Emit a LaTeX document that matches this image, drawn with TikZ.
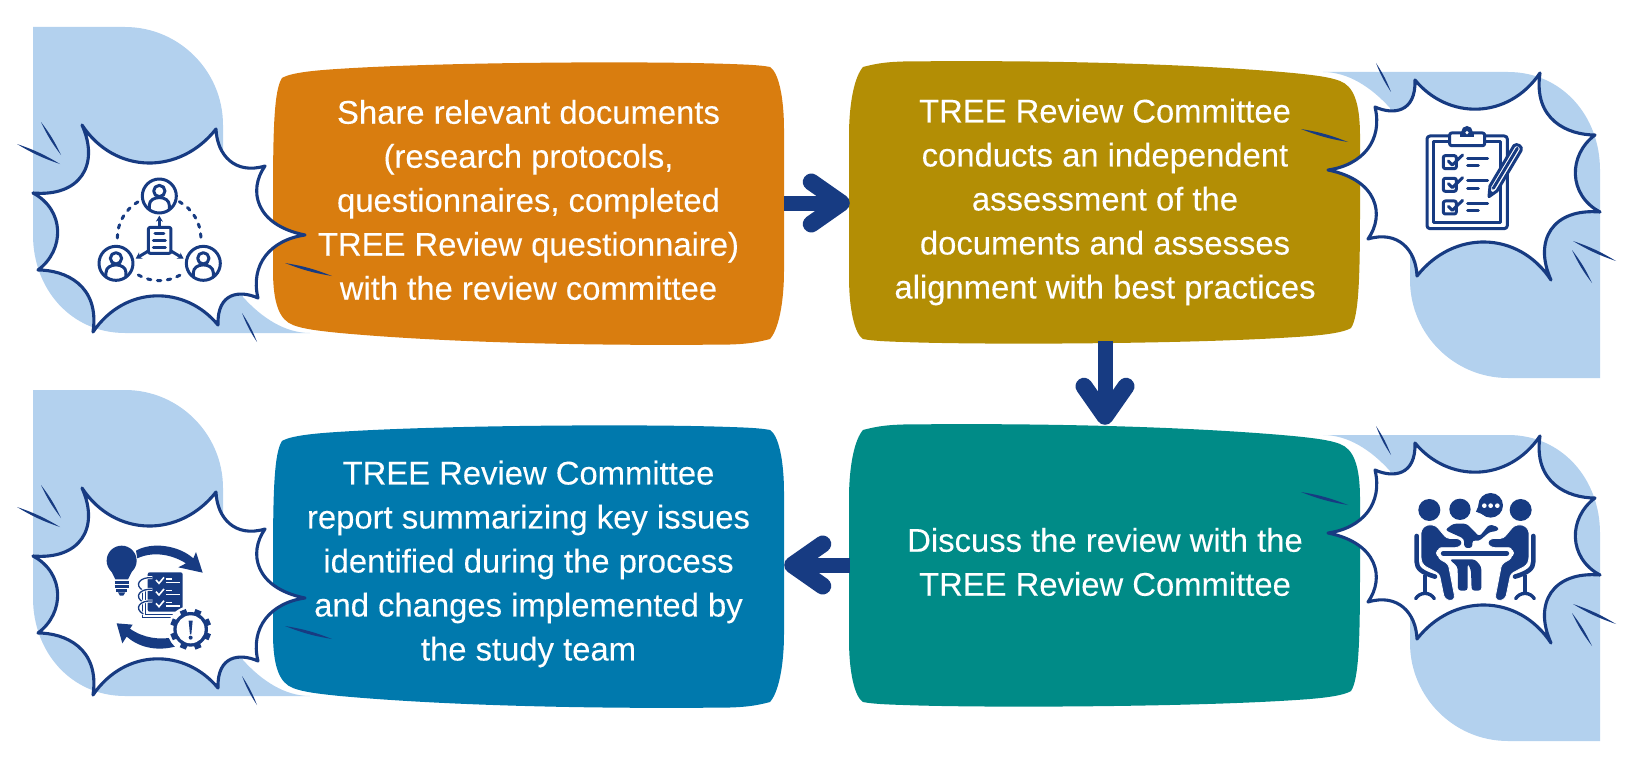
\documentclass[tikz,border=0pt]{standalone}
\usepackage{fontspec}
\setmainfont[FakeBold=0.15]{Liberation Sans}
\usetikzlibrary{arrows.meta}
\definecolor{inknavy}{HTML}{173B82}
\definecolor{blobblue}{HTML}{B3D1EE}
\definecolor{boxorange}{HTML}{D97D0F}
\definecolor{boxgold}{HTML}{B38E05}
\definecolor{boxteal}{HTML}{008B87}
\definecolor{boxblue}{HTML}{0079AD}
\newcommand{\penstroke}[2]{\fill[inknavy] (#1) to[bend left=6] (#2) to[bend left=6] (#1);}
\tikzset{
  steptext/.style={text=white, align=center, minimum width=511pt, minimum height=278pt, inner sep=0pt, font=\fontsize{32.8}{44}\selectfont},
  flowarrow/.style={draw=inknavy, line width=15pt, -{Straight Barb[round, length=30pt, width=42pt, line width=17pt]}},
  zoomed/.style={x=0.3333pt, y=-0.3333pt},
  iconline/.style={draw=inknavy, line width=3pt, line cap=round, line join=round},
  blobback/.pic={
    \fill[blobblue] (33,27) -- (125,27) .. controls (179,27) and (223,71) .. (223,125) -- (223,170) -- (243,297)
      .. controls (262,318) and (285,333) .. (310,333) -- (125,333) .. controls (71,333) and (33,289) .. (33,235) -- cycle;
  },
  stepblob/.pic={
    \fill[#1] (273,200) .. controls (273,130) and (274,90) .. (282,78) .. controls (292,72) and (320,70) .. (345,68.5)
      .. controls (450,62) and (650,61) .. (730,64) .. controls (745,64.5) and (760,65) .. (770,67)
      .. controls (778,72) and (784,95) .. (784,130) -- (784,270) .. controls (784,305) and (778,330) .. (770,339)
      .. controls (755,343) and (745,344) .. (730,344.5) .. controls (600,346) and (450,343) .. (340,333)
      .. controls (320,331) and (303,329) .. (293,325) .. controls (280,320) and (273,305) .. (273,270) -- cycle;
  },
  burstframe/.pic={
    \draw[draw=inknavy, fill=white, line width=3.1pt, line join=round] (82,125) .. controls (115,175) and (180,175) .. (216,129)
      .. controls (217,155) and (235,175) .. (265,166) .. controls (248,190) and (255,225) .. (305,235)
      .. controls (270,240) and (250,265) .. (258,298) .. controls (240,290) and (217,292) .. (218,325)
      .. controls (185,285) and (125,285) .. (93,332) .. controls (100,285) and (65,270) .. (38,270)
      .. controls (65,250) and (65,210) .. (33,193) .. controls (80,197) and (100,165) .. (82,125) -- cycle;
    \penstroke{41,122}{61,155}
    \penstroke{17,144}{60,164}
    \penstroke{285,263}{332,276}
    \penstroke{242,313}{257,342}
  },
  personring/.pic={
    \draw[iconline] (0,0) circle[radius=51];
    \draw[iconline] (0,-15) circle[radius=17];
    \begin{scope}
      \clip (0,0) circle[radius=51];
      \draw[iconline] (-30,55) -- (-30,28) .. controls (-30,-3) and (30,-3) .. (30,28) -- (30,55);
    \end{scope}
  }
}
\begin{document}
\begin{tikzpicture}[x=1pt, y=-1pt]
\useasboundingbox (0,0) rectangle (1631,760);
\pic at (0,0) {blobback};
\pic at (0,363) {blobback};
\pic[rotate=180] at (1633,405) {blobback};
\pic[rotate=180] at (1633,768) {blobback};
\pic at (0,0) {stepblob=boxorange};
\pic at (0,363) {stepblob=boxblue};
\pic[rotate=180] at (1633,406) {stepblob=boxgold};
\pic[rotate=180] at (1633,769) {stepblob=boxteal};
\node[steptext] (share) at (528.5,200) {Share relevant documents\\(research protocols,\\questionnaires, completed\\TREE Review questionnaire)\\with the review committee};
\node[steptext, minimum width=510pt] (assess) at (1105,202) {TREE Review Committee\\conducts an independent\\assessment of the\\documents and assesses\\alignment with best practices};
\node[steptext, minimum width=510pt, minimum height=274pt] (discuss) at (1105,562) {Discuss the review with the\\TREE Review Committee};
\node[steptext, minimum height=282pt] (report) at (528.5,564) {TREE Review Committee\\report summarizing key issues\\identified during the process\\and changes implemented by\\the study team};
\draw[flowarrow] ([yshift=-3pt]share.east) -- ([yshift=-1pt]assess.west);
\draw[flowarrow] (assess) -- (discuss);
\draw[flowarrow] ([yshift=-3pt]discuss.west) -- ([yshift=-1pt]report.east);
\pic at (0,0) {burstframe};
\pic at (0,363) {burstframe};
\pic[rotate=180] at (1633,405) {burstframe};
\pic[rotate=180] at (1633,768) {burstframe};
\begin{scope}[shift={(90,170)}, zoomed]
  \pic at (208,78) {personring};
  \pic at (78,280) {personring};
  \pic at (340,280) {personring};
  \draw[iconline, dash pattern=on 3.5pt off 6.5pt] (82,204) arc[start angle=180, end angle=240, radius=126];
  \draw[iconline, dash pattern=on 3.5pt off 6.5pt] (268,95) arc[start angle=-61, end angle=0, radius=126];
  \draw[iconline, dash pattern=on 3.5pt off 6.5pt] (145,315) arc[start angle=120, end angle=60, radius=126];
  \draw[iconline, rounded corners=2pt] (175,172) rectangle (243,250);
  \draw[iconline] (195,192) -- (222,192) (190,211) -- (226,211) (190,232) -- (226,232);
  \draw[iconline, -{Stealth[length=6pt, width=7pt]}] (208,170) -- (208,137);
  \draw[iconline, -{Stealth[length=6pt, width=7pt]}] (175,243) -- (137,266);
  \draw[iconline, -{Stealth[length=6pt, width=7pt]}] (243,243) -- (281,266);
\end{scope}
\begin{scope}[shift={(1290,50)}, zoomed]
  \draw[iconline, rounded corners=3pt] (411,258) rectangle (652,536);
  \draw[iconline] (429,275) rectangle (632,518);
  \fill[inknavy] (531,245) circle[radius=17];
  \draw[iconline, fill=white, rounded corners=2pt] (479,249) rectangle (584,287);
  \fill[inknavy] (510,249) rectangle (552,262);
  \fill[white] (531,248) circle[radius=5];
  \foreach \rowy in {0,68,136} {
    \draw[iconline, rounded corners=2pt] (460,317+\rowy) rectangle (499,356+\rowy);
    \draw[iconline] (475,333+\rowy) -- (487,345+\rowy) -- (518,315+\rowy);
    \draw[iconline] (533,325+\rowy) -- (593,325+\rowy);
    \draw[iconline] (533,347+\rowy) -- (565,347+\rowy);
  }
  \draw[iconline, fill=white] (597,440) -- (600,408) -- (672,287) .. controls (680,278) and (700,290) .. (693,302) -- (621,423) -- cycle;
  \draw[iconline] (610,415) -- (682,295);
  \fill[inknavy] (597,440) -- (598,420) -- (613,429) -- cycle;
\end{scope}
\begin{scope}[shift={(1290,420)}, zoomed]
  \fill[inknavy] (418,270) circle[radius=33] (510,268) circle[radius=32] (692,270) circle[radius=33];
  \fill[inknavy] (602,256) circle[radius=37];
  \fill[inknavy] (575,235) -- (558,275) -- (595,290) -- cycle;
  \fill[white] (583,257) circle[radius=7] (602,257) circle[radius=7] (622,257) circle[radius=7];
  \fill[inknavy, rounded corners=3pt] (465,330) -- (490,311) -- (530,311) -- (568,350) -- (598,313) -- (627,322) -- (622,334) -- (600,335) -- (566,364) -- (547,360) -- (547,384) -- (523,384) -- (522,356) -- cycle;
  \fill[inknavy, rounded corners=3pt] (478,418) -- (555,418) -- (574,440) -- (574,512) -- (545,512) -- (543,450) -- (533,430) -- (533,512) -- (504,512) -- (503,440) -- cycle;
  \foreach \side in {1,-1} {
    \begin{scope}[shift={(555,0)}, xscale=\side]
      \filldraw[fill=inknavy, draw=white, line width=0.8pt, rounded corners=3pt] (-162,330) -- (-145,314) -- (-118,316) -- (-85,355) -- (-45,356) -- (-36,370) -- (-50,383) -- (-110,383) -- (-110,415) -- (-80,432) -- (-60,535) -- (-72,544) -- (-92,535) -- (-107,462) -- (-155,436) -- (-162,420) -- cycle;
      \draw[inknavy, line width=4.6pt, line cap=round, line join=round] (-175,348) -- (-175,425) .. controls (-175,445) and (-160,458) .. (-120,470);
      \draw[inknavy, line width=4.6pt] (-150,465) -- (-150,518);
      \draw[inknavy, line width=3.4pt, line cap=round] (-178,536) .. controls (-165,515) and (-135,515) .. (-122,536);
    \end{scope}
  }
  \draw[white, line width=8pt, line cap=round] (450,400) -- (660,400);
  \draw[inknavy, line width=5pt, line cap=round] (460,400) -- (650,400);
\end{scope}
\begin{scope}[shift={(90,530)}, zoomed]
  \fill[inknavy] (95,92) circle[radius=45];
  \fill[inknavy] (62,120) -- (76,148) -- (114,148) -- (128,120) -- cycle;
  \draw[inknavy, line width=3pt] (74,157) -- (116,157) (74,169) -- (116,169) (78,181) -- (112,181);
  \fill[inknavy] (84,187) -- (106,187) -- (100,197) -- (90,197) -- cycle;
  \fill[inknavy] (138,62) .. controls (185,35) and (265,45) .. (310,85) -- (318,66) -- (338,128) -- (265,112) -- (288,100) .. controls (240,70) and (185,65) .. (142,85) -- cycle;
  \fill[inknavy] (80,280) -- (128,284) -- (120,296) .. controls (160,325) and (210,330) .. (250,322) -- (255,350) .. controls (195,365) and (145,350) .. (110,320) -- (97,340) -- cycle;
  \draw[inknavy, line width=1.3pt] (158,180) -- (158,262) -- (260,262) (166,180) -- (166,254) -- (260,254);
  \fill[inknavy, rounded corners=2pt] (173,127) rectangle (278,245);
  \foreach \rowy in {0,35,70} {
    \draw[white, line width=1.6pt] (198,150+\rowy) -- (207,160+\rowy) -- (222,142+\rowy);
    \draw[white, line width=1.2pt] (228,147+\rowy) -- (245,147+\rowy) (228,158+\rowy) -- (270,158+\rowy);
    \draw[white, line width=3pt] (187,143+\rowy) .. controls (150,140+\rowy) and (130,165+\rowy) .. (160,182+\rowy);
    \draw[inknavy, line width=1.3pt] (187,143+\rowy) .. controls (150,140+\rowy) and (130,165+\rowy) .. (160,182+\rowy);
  }
  \fill[white] (302,298) circle[radius=70];
  \fill[inknavy] (302,298) circle[radius=52];
  \foreach \toothangle in {0,45,...,315} {
    \draw[inknavy, line width=6.5pt] (302,298) ++(\toothangle+22.5:44) -- ++(\toothangle+22.5:18);
  }
  \fill[white] (302,298) circle[radius=42];
  \fill[inknavy] (296,272) -- (308,272) -- (304,313) -- (300,313) -- cycle;
  \fill[inknavy] (302,323) circle[radius=6];
\end{scope}
\end{tikzpicture}
\end{document}
